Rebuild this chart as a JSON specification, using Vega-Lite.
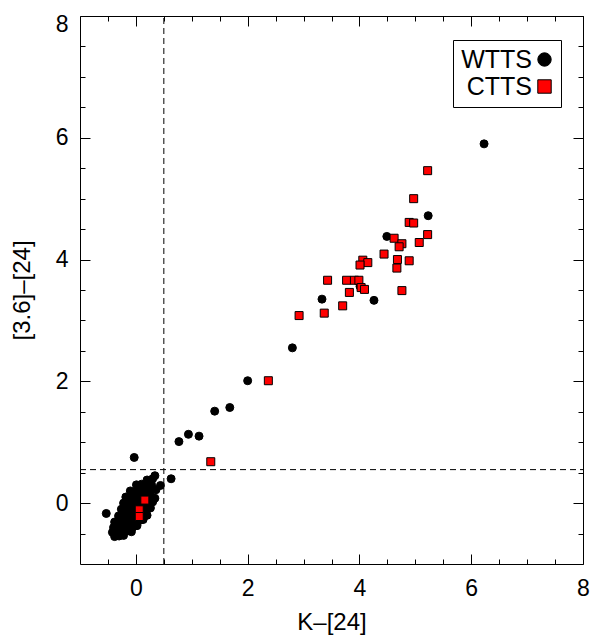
{
  "$schema": "https://vega.github.io/schema/vega-lite/v6.json",
  "width": 503,
  "height": 548,
  "autosize": {"type": "none"},
  "padding": {"left": 80, "top": 16, "right": 7, "bottom": 72},
  "background": "white",
  "config": {
    "view": {"stroke": "black", "strokeWidth": 1},
    "font": "Liberation Sans",
    "axis": {
      "domain": false,
      "grid": false,
      "ticks": true,
      "tickColor": "black",
      "tickWidth": 1,
      "labelColor": "black",
      "titleColor": "black",
      "labelFont": "Liberation Sans",
      "labelFontSize": 23,
      "titleFont": "Liberation Sans",
      "titleFontSize": 24,
      "titleFontWeight": "normal",
      "labelFlush": false,
      "labelOverlap": false,
      "format": "d"
    },
    "legend": {
      "orient": "none", "legendX": 373, "legendY": 24, "title": null,
      "strokeColor": "black", "fillColor": "white", "padding": 7,
      "labelFont": "Liberation Sans", "labelFontSize": 25, "labelColor": "black",
      "labelAlign": "right", "labelOffset": -25, "symbolOffset": 72,
      "symbolSize": 180, "symbolStrokeColor": "black", "symbolStrokeWidth": 1,
      "rowPadding": 1
    }
  },
  "datasets": {
    "hcut": [{"x": -1, "x2": 8, "y": 0.55}],
    "vcut": [{"x": 0.5, "y": -1, "y2": 8}],
    "wtts": [
      {"type": "WTTS", "k24": 6.23, "c24": 5.90},
      {"type": "WTTS", "k24": 5.23, "c24": 4.72},
      {"type": "WTTS", "k24": 4.49, "c24": 4.38},
      {"type": "WTTS", "k24": 3.33, "c24": 3.35},
      {"type": "WTTS", "k24": 4.26, "c24": 3.33},
      {"type": "WTTS", "k24": 4.01, "c24": 3.56},
      {"type": "WTTS", "k24": 2.80, "c24": 2.55},
      {"type": "WTTS", "k24": 2.00, "c24": 2.01},
      {"type": "WTTS", "k24": 1.68, "c24": 1.57},
      {"type": "WTTS", "k24": 1.41, "c24": 1.51},
      {"type": "WTTS", "k24": 1.13, "c24": 1.10},
      {"type": "WTTS", "k24": 0.94, "c24": 1.13},
      {"type": "WTTS", "k24": 0.77, "c24": 1.01},
      {"type": "WTTS", "k24": 0.63, "c24": 0.40},
      {"type": "WTTS", "k24": -0.03, "c24": 0.75},
      {"type": "WTTS", "k24": -0.53, "c24": -0.17},
      {"type": "WTTS", "k24": -0.38, "c24": -0.55},
      {"type": "WTTS", "k24": -0.30, "c24": -0.54},
      {"type": "WTTS", "k24": -0.22, "c24": -0.53},
      {"type": "WTTS", "k24": -0.42, "c24": -0.48},
      {"type": "WTTS", "k24": -0.34, "c24": -0.47},
      {"type": "WTTS", "k24": -0.26, "c24": -0.48},
      {"type": "WTTS", "k24": -0.17, "c24": -0.46},
      {"type": "WTTS", "k24": -0.08, "c24": -0.47},
      {"type": "WTTS", "k24": -0.40, "c24": -0.40},
      {"type": "WTTS", "k24": -0.32, "c24": -0.39},
      {"type": "WTTS", "k24": -0.24, "c24": -0.41},
      {"type": "WTTS", "k24": -0.15, "c24": -0.38},
      {"type": "WTTS", "k24": -0.06, "c24": -0.40},
      {"type": "WTTS", "k24": 0.02, "c24": -0.37},
      {"type": "WTTS", "k24": -0.38, "c24": -0.31},
      {"type": "WTTS", "k24": -0.29, "c24": -0.30},
      {"type": "WTTS", "k24": -0.20, "c24": -0.31},
      {"type": "WTTS", "k24": -0.11, "c24": -0.29},
      {"type": "WTTS", "k24": -0.02, "c24": -0.30},
      {"type": "WTTS", "k24": 0.08, "c24": -0.28},
      {"type": "WTTS", "k24": 0.13, "c24": -0.27},
      {"type": "WTTS", "k24": -0.31, "c24": -0.21},
      {"type": "WTTS", "k24": -0.22, "c24": -0.20},
      {"type": "WTTS", "k24": -0.13, "c24": -0.22},
      {"type": "WTTS", "k24": -0.04, "c24": -0.19},
      {"type": "WTTS", "k24": 0.05, "c24": -0.21},
      {"type": "WTTS", "k24": 0.14, "c24": -0.18},
      {"type": "WTTS", "k24": 0.20, "c24": -0.20},
      {"type": "WTTS", "k24": -0.26, "c24": -0.10},
      {"type": "WTTS", "k24": -0.17, "c24": -0.11},
      {"type": "WTTS", "k24": -0.08, "c24": -0.09},
      {"type": "WTTS", "k24": 0.02, "c24": -0.11},
      {"type": "WTTS", "k24": 0.11, "c24": -0.08},
      {"type": "WTTS", "k24": 0.20, "c24": -0.10},
      {"type": "WTTS", "k24": 0.26, "c24": -0.08},
      {"type": "WTTS", "k24": -0.22, "c24": 0.00},
      {"type": "WTTS", "k24": -0.13, "c24": 0.01},
      {"type": "WTTS", "k24": -0.04, "c24": -0.01},
      {"type": "WTTS", "k24": 0.05, "c24": 0.02},
      {"type": "WTTS", "k24": 0.14, "c24": 0.00},
      {"type": "WTTS", "k24": 0.22, "c24": 0.01},
      {"type": "WTTS", "k24": 0.30, "c24": 0.02},
      {"type": "WTTS", "k24": -0.18, "c24": 0.10},
      {"type": "WTTS", "k24": -0.09, "c24": 0.11},
      {"type": "WTTS", "k24": 0.00, "c24": 0.09},
      {"type": "WTTS", "k24": 0.09, "c24": 0.12},
      {"type": "WTTS", "k24": 0.18, "c24": 0.10},
      {"type": "WTTS", "k24": 0.27, "c24": 0.11},
      {"type": "WTTS", "k24": 0.34, "c24": 0.08},
      {"type": "WTTS", "k24": -0.10, "c24": 0.20},
      {"type": "WTTS", "k24": -0.01, "c24": 0.19},
      {"type": "WTTS", "k24": 0.08, "c24": 0.21},
      {"type": "WTTS", "k24": 0.17, "c24": 0.20},
      {"type": "WTTS", "k24": 0.26, "c24": 0.19},
      {"type": "WTTS", "k24": 0.36, "c24": 0.22},
      {"type": "WTTS", "k24": 0.01, "c24": 0.30},
      {"type": "WTTS", "k24": 0.10, "c24": 0.31},
      {"type": "WTTS", "k24": 0.19, "c24": 0.29},
      {"type": "WTTS", "k24": 0.28, "c24": 0.30},
      {"type": "WTTS", "k24": 0.44, "c24": 0.29},
      {"type": "WTTS", "k24": 0.20, "c24": 0.38},
      {"type": "WTTS", "k24": 0.30, "c24": 0.40},
      {"type": "WTTS", "k24": 0.34, "c24": 0.45}
    ],
    "ctts": [
      {"type": "CTTS", "k24": 5.22, "c24": 5.46},
      {"type": "CTTS", "k24": 4.97, "c24": 5.00},
      {"type": "CTTS", "k24": 4.89, "c24": 4.61},
      {"type": "CTTS", "k24": 4.97, "c24": 4.60},
      {"type": "CTTS", "k24": 5.22, "c24": 4.41},
      {"type": "CTTS", "k24": 4.62, "c24": 4.35},
      {"type": "CTTS", "k24": 5.07, "c24": 4.28},
      {"type": "CTTS", "k24": 4.76, "c24": 4.26},
      {"type": "CTTS", "k24": 4.71, "c24": 4.21},
      {"type": "CTTS", "k24": 4.44, "c24": 4.09},
      {"type": "CTTS", "k24": 4.68, "c24": 4.00},
      {"type": "CTTS", "k24": 4.89, "c24": 3.98},
      {"type": "CTTS", "k24": 4.06, "c24": 3.99},
      {"type": "CTTS", "k24": 4.15, "c24": 3.95},
      {"type": "CTTS", "k24": 4.01, "c24": 3.91},
      {"type": "CTTS", "k24": 4.67, "c24": 3.86},
      {"type": "CTTS", "k24": 3.43, "c24": 3.66},
      {"type": "CTTS", "k24": 3.77, "c24": 3.66},
      {"type": "CTTS", "k24": 3.91, "c24": 3.66},
      {"type": "CTTS", "k24": 3.99, "c24": 3.66},
      {"type": "CTTS", "k24": 4.03, "c24": 3.54},
      {"type": "CTTS", "k24": 4.09, "c24": 3.51},
      {"type": "CTTS", "k24": 3.82, "c24": 3.46},
      {"type": "CTTS", "k24": 4.76, "c24": 3.49},
      {"type": "CTTS", "k24": 3.70, "c24": 3.24},
      {"type": "CTTS", "k24": 3.37, "c24": 3.12},
      {"type": "CTTS", "k24": 2.92, "c24": 3.08},
      {"type": "CTTS", "k24": 2.37, "c24": 2.01},
      {"type": "CTTS", "k24": 1.34, "c24": 0.68},
      {"type": "CTTS", "k24": 0.16, "c24": 0.05},
      {"type": "CTTS", "k24": 0.06, "c24": -0.11},
      {"type": "CTTS", "k24": 0.06, "c24": -0.22}
    ]
  },
  "layer": [
    {
      "data": {"name": "hcut"},
      "mark": {"type": "rule", "color": "black", "strokeWidth": 1, "strokeDash": [6, 4]},
      "encoding": {
        "x": {
          "field": "x", "type": "quantitative",
          "scale": {"domain": [-1, 8], "nice": false, "zero": false},
          "axis": {"orient": "top", "title": null, "labels": false, "ticks": true, "tickColor": "black", "tickSize": 5, "offset": -5,
            "values": [-0.5, 0.5, 1, 1.5, 2.5, 3, 3.5, 4.5, 5, 5.5, 6.5, 7, 7.5]}
        },
        "x2": {"field": "x2"},
        "y": {
          "field": "y", "type": "quantitative",
          "scale": {"domain": [-1, 8], "nice": false, "zero": false},
          "axis": {"orient": "right", "title": null, "labels": false, "ticks": true, "tickColor": "black", "tickSize": 5, "offset": -5,
            "values": [-0.5, 0.5, 1, 1.5, 2.5, 3, 3.5, 4.5, 5, 5.5, 6.5, 7, 7.5]}
        }
      }
    },
    {
      "data": {"name": "vcut"},
      "mark": {"type": "rule", "color": "black", "strokeWidth": 1, "strokeDash": [6, 4]},
      "encoding": {
        "x": {
          "field": "x", "type": "quantitative",
          "scale": {"domain": [-1, 8], "nice": false, "zero": false},
          "axis": {"orient": "top", "title": null, "labels": false, "ticks": true, "tickColor": "black", "tickSize": 10, "offset": -10,
            "values": [0, 2, 4, 6, 8]}
        },
        "y": {
          "field": "y", "type": "quantitative",
          "scale": {"domain": [-1, 8], "nice": false, "zero": false},
          "axis": {"orient": "right", "title": null, "labels": false, "ticks": true, "tickColor": "black", "tickSize": 10, "offset": -10,
            "values": [0, 2, 4, 6, 8]}
        },
        "y2": {"field": "y2"}
      }
    },
    {
      "data": {"name": "wtts"},
      "mark": {"type": "point", "filled": true, "opacity": 1, "size": 64, "stroke": "black", "strokeWidth": 1},
      "encoding": {
        "x": {
          "field": "k24", "type": "quantitative",
          "scale": {"domain": [-1, 8], "nice": false, "zero": false},
          "axis": {"orient": "bottom", "title": "K–[24]", "ticks": true, "tickColor": "black", "tickSize": 10, "offset": -10,
            "values": [0, 2, 4, 6, 8], "labelPadding": 13, "titlePadding": 10}
        },
        "y": {
          "field": "c24", "type": "quantitative",
          "scale": {"domain": [-1, 8], "nice": false, "zero": false},
          "axis": {"orient": "left", "title": "[3.6]–[24]", "ticks": true, "tickColor": "black", "tickSize": 10, "offset": -10,
            "values": [0, 2, 4, 6, 8], "labelPadding": 12, "titlePadding": 21,
            "labelFlush": true, "labelFlushOffset": 3}
        },
        "color": {
          "field": "type", "type": "nominal",
          "scale": {"domain": ["WTTS", "CTTS"], "range": ["black", "#ff0000"]}
        },
        "shape": {
          "field": "type", "type": "nominal",
          "scale": {"domain": ["WTTS", "CTTS"], "range": ["circle", "square"]}
        }
      }
    },
    {
      "data": {"name": "ctts"},
      "mark": {"type": "point", "filled": true, "opacity": 1, "size": 64, "stroke": "black", "strokeWidth": 1},
      "encoding": {
        "x": {
          "field": "k24", "type": "quantitative",
          "scale": {"domain": [-1, 8], "nice": false, "zero": false},
          "axis": {"orient": "bottom", "title": null, "labels": false, "ticks": true, "tickColor": "black", "tickSize": 5, "offset": -5,
            "values": [-0.5, 0.5, 1, 1.5, 2.5, 3, 3.5, 4.5, 5, 5.5, 6.5, 7, 7.5]}
        },
        "y": {
          "field": "c24", "type": "quantitative",
          "scale": {"domain": [-1, 8], "nice": false, "zero": false},
          "axis": {"orient": "left", "title": null, "labels": false, "ticks": true, "tickColor": "black", "tickSize": 5, "offset": -5,
            "values": [-0.5, 0.5, 1, 1.5, 2.5, 3, 3.5, 4.5, 5, 5.5, 6.5, 7, 7.5]}
        },
        "color": {
          "field": "type", "type": "nominal",
          "scale": {"domain": ["WTTS", "CTTS"], "range": ["black", "#ff0000"]}
        },
        "shape": {
          "field": "type", "type": "nominal",
          "scale": {"domain": ["WTTS", "CTTS"], "range": ["circle", "square"]}
        }
      }
    }
  ],
  "resolve": {"axis": {"x": "independent", "y": "independent"}}
}
